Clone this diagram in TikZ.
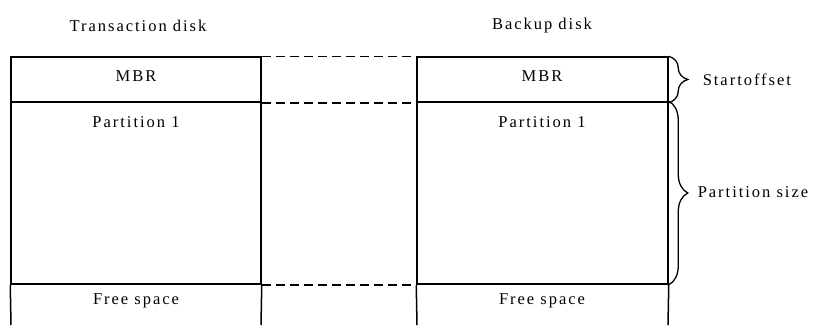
\documentclass[tikz,border=0pt]{standalone}
\usepackage{fontspec}
\setmainfont{Liberation Serif}[LetterSpace=12]
\usetikzlibrary{decorations.pathreplacing}
\begin{document}
\begin{tikzpicture}[x=1pt,y=-1pt,
  line width=1.5pt,
  txt/.style={font=\fontsize{16.5}{19}\selectfont, inner sep=0pt},
  seg/.style={draw, minimum width=250pt, inner sep=0pt},
  link/.style={line width=1.5pt, dash pattern=on 9pt off 5pt},
  bracelabel/.style={decorate, decoration={brace, amplitude=19pt}, line width=1.3pt}]
\useasboundingbox (0,0) rectangle (817,325);
% titles
\node[txt] (ttitle) at (138,26) {Transaction disk};
\node[txt] (btitle) at (542,26) {Backup disk};
% transaction disk
\node[seg, minimum height=45pt] (tmbr) at (136,79.5) {};
\node[seg, minimum height=182pt] (tpart) at (136,193) {};
\node[txt] (tmbrtext) at (136,76) {MBR};
\node[txt] (tparttext) at (136,122) {Partition 1};
\node[txt] (tfreetext) at (136,301) {Free space};
\coordinate (tfl) at (11,325);
\coordinate (tfr) at (261,325);
\draw (tpart.south west) -- (tfl);
\draw (tpart.south east) -- (tfr);
% backup disk
\node[seg, minimum width=251pt, minimum height=45pt] (bmbr) at (542.5,79.5) {};
\node[seg, minimum width=251pt, minimum height=182pt] (bpart) at (542.5,193) {};
\node[txt] (bmbrtext) at (542,76) {MBR};
\node[txt] (bparttext) at (542,122) {Partition 1};
\node[txt] (bfreetext) at (542,301) {Free space};
\coordinate (bfl) at (417,325);
\coordinate (bfr) at (668,325);
\draw (bpart.south west) -- (bfl);
\draw (bpart.south east) -- (bfr);
% dashed links
\draw[link] (tmbr.north east) -- (bmbr.north west);
\draw[link] (tmbr.south east) -- (bmbr.south west);
\draw[link] (tpart.south east) -- (bpart.south west);
% braces
\draw[bracelabel] (bmbr.north east) -- (bmbr.south east);
\draw[bracelabel] (bpart.north east) -- (bpart.south east);
\node[txt, anchor=west] (soff) at (702,80) {Startoffset};
\node[txt, anchor=west] (psize) at (697,192) {Partition size};
\end{tikzpicture}
\end{document}
